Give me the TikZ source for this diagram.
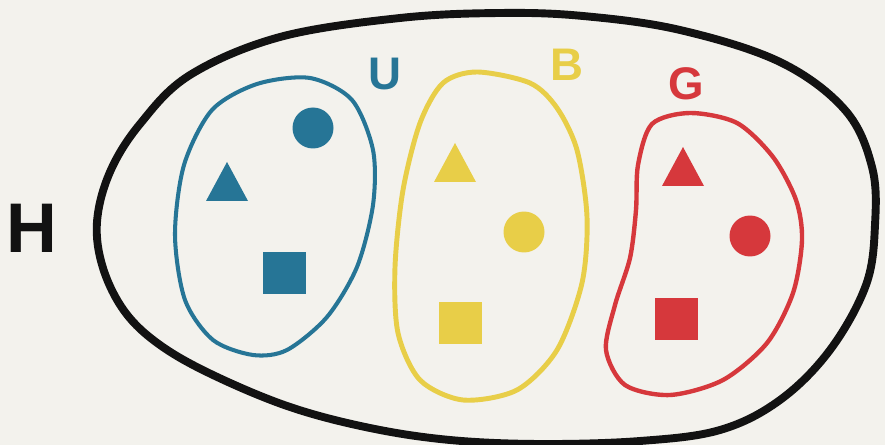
\documentclass[tikz,border=0pt]{standalone}
\usepackage{fontspec}
\usepackage{xcolor}
\usepackage{tikz}
\newfontfamily\letterfont{Liberation Sans}
\definecolor{paper}{RGB}{243,242,237}
\definecolor{setU}{RGB}{38,117,150}
\definecolor{setB}{RGB}{232,206,72}
\definecolor{setG}{RGB}{214,56,60}
\definecolor{setH}{RGB}{18,18,18}

\begin{document}
\begin{tikzpicture}[x=0.02cm, y=-0.02cm, line join=round]
\fill[paper] (0,0) rectangle (885,445);
\useasboundingbox (0,0) rectangle (885,445);
% outer set H
\draw[setH, line width=4.5pt] plot[smooth cycle, tension=0.6] coordinates {
  (400,18) (500,13) (583,16) (680,30) (780,62) (845,110) (872,167)
  (875,225) (866,285) (830,350) (780,400) (720,430) (640,441) (540,444)
  (450,440) (370,428) (290,407) (213,375) (160,345) (125,312) (103,268)
  (97,222) (110,172) (140,124) (190,75) (280,37)};
% set U
\draw[setU, line width=2.3pt] plot[smooth cycle] coordinates {
  (310,78) (352,100) (373,150) (373,205) (357,267) (327,317) (287,350)
  (253,355) (213,340) (185,300) (175,235) (184,165) (212,110) (257,84)};
% set B
\draw[setB, line width=2.8pt] plot[smooth cycle] coordinates {
  (477,72) (530,83) (557,108) (577,150) (587,217) (582,283) (557,350)
  (517,390) (463,400) (420,380) (398,333) (395,267) (403,190) (420,123)
  (443,83)};
% set G
\draw[setG, line width=2.5pt] plot[smooth cycle] coordinates {
  (690,113) (737,123) (773,157) (796,200) (802,240) (793,293) (767,343)
  (723,380) (670,395) (625,385) (606,350) (615,305) (630,258) (636,210)
  (638,165) (652,124)};
% elements: colour / triangle apex / circle centre / square corner
\foreach \col/\tx/\ty/\cx/\cy/\sx/\sy in {
    setU/227/162/313/128/263/252,
    setB/455/143/524/232/439/302,
    setG/683/147/750/236/655/298}{
  \fill[\col] (\tx,\ty) -- ++(-21,39) -- ++(42,0) -- cycle;
  \fill[\col] (\cx,\cy) circle[radius=0.41cm];
  \fill[\col] (\sx,\sy) rectangle ++(43,42);
}
% labels
\node[text=setH, font=\letterfont\bfseries\fontsize{40}{40}\selectfont] (labH) at (32,228) {H};
\node[text=setU, font=\letterfont\bfseries\fontsize{26}{26}\selectfont] (labU) at (385,74) {U};
\node[text=setB, font=\letterfont\bfseries\fontsize{26}{26}\selectfont] (labB) at (567,65) {B};
\node[text=setG, font=\letterfont\bfseries\fontsize{26}{26}\selectfont] (labG) at (686,84) {G};
\end{tikzpicture}
\end{document}
